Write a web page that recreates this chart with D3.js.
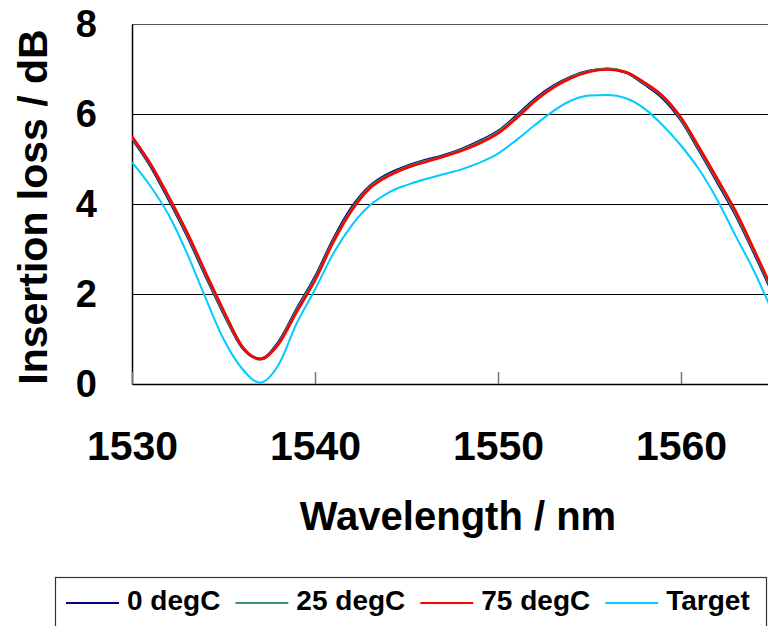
<!DOCTYPE html>
<html>
<head>
<meta charset="utf-8">
<script src="https://cdn.jsdelivr.net/npm/d3@7"></script>
<style>
    body { margin: 0; background: #fff; }
    svg { display: block; font-family: "Liberation Sans", Arial, sans-serif; font-weight: bold; }
</style>
</head>
<body>
<div id="vis"></div>
<script>
// wavelength grid (nm) shared by every series
var wavelengths = [1530, 1531, 1532, 1533, 1534, 1535, 1536, 1537, 1538, 1539,
                   1540, 1541, 1542, 1543, 1544, 1545, 1546, 1547, 1548, 1549,
                   1550, 1551, 1552, 1553, 1554, 1555, 1556, 1557, 1558, 1559,
                   1560, 1561, 1562, 1563, 1564, 1565];

var loss0 = [5.45, 4.85, 4.10, 3.30, 2.42, 1.57, 0.82, 0.56, 0.93, 1.67,
             2.38, 3.22, 3.92, 4.40, 4.67, 4.84, 4.97, 5.08, 5.22, 5.40,
             5.62, 5.96, 6.33, 6.62, 6.83, 6.96, 7.00, 6.92, 6.66, 6.35,
             5.86, 5.18, 4.47, 3.74, 2.90, 2.02];

var loss25 = [5.47, 4.88, 4.14, 3.34, 2.46, 1.60, 0.84, 0.55, 0.90, 1.64,
              2.34, 3.18, 3.88, 4.38, 4.64, 4.82, 4.95, 5.06, 5.20, 5.38,
              5.60, 5.93, 6.30, 6.60, 6.82, 6.95, 7.01, 6.93, 6.68, 6.38,
              5.89, 5.21, 4.51, 3.78, 2.94, 2.06];

var loss75 = [5.50, 4.90, 4.17, 3.38, 2.50, 1.64, 0.85, 0.55, 0.88, 1.60,
              2.30, 3.15, 3.85, 4.35, 4.62, 4.80, 4.93, 5.05, 5.18, 5.35,
              5.57, 5.90, 6.28, 6.58, 6.80, 6.94, 6.99, 6.93, 6.70, 6.40,
              5.92, 5.25, 4.55, 3.83, 2.98, 2.10];

var lossTarget = [4.93, 4.40, 3.76, 2.91, 1.93, 1.00, 0.35, 0.03, 0.42, 1.35,
                  2.10, 2.90, 3.52, 3.97, 4.25, 4.42, 4.55, 4.66, 4.77, 4.92,
                  5.12, 5.42, 5.75, 6.06, 6.30, 6.41, 6.42, 6.35, 6.12, 5.75,
                  5.30, 4.76, 4.08, 3.28, 2.50, 1.60];

var seriesNames = ['0 degC', '25 degC', '75 degC', 'Target'];
var seriesColors = ['#000080', '#339966', '#ff0000', '#00ccff'];
var xTicks = [1530, 1540, 1550, 1560];
var yTicks = [0, 2, 4, 6, 8];

var series = [loss0, loss25, loss75, lossTarget].map((vals, i) => ({
    name: seriesNames[i],
    color: seriesColors[i],
    values: vals.map((v, j) => ({wl: wavelengths[j], loss: v}))
}));

var width = 768,
    height = 626;

var margin = {
    left:   132,
    top:    24,
    bottom: 242
};

var plotBottom = height - margin.bottom;

var svg = d3.select('#vis')
            .append('svg')
            .attr('width', width)
            .attr('height', height);

var xScale = d3.scaleLinear()
               .domain([1530, 1565])
               .range([margin.left, margin.left + 35 * 18.3]);

var yScale = d3.scaleLinear()
               .domain([0, 8])
               .range([plotBottom, margin.top]);

// horizontal gridlines
var grid = svg.append('g')
              .attr('transform', `translate(${margin.left}, 0)`)
              .call(d3.axisLeft(yScale).tickValues([2, 4, 6, 8]).tickSize(-(width - margin.left)).tickFormat(''));
grid.select('.domain').remove();
grid.selectAll('line')
    .attr('stroke', (d) => d == 8 ? '#555' : '#000')
    .attr('stroke-width', 1);

// y axis
var yAxis = svg.append('g')
               .attr('transform', `translate(${margin.left}, 0)`)
               .call(d3.axisLeft(yScale).tickValues(yTicks).tickSize(0).tickPadding(35));
yAxis.select('.domain').attr('stroke', '#000').attr('stroke-width', 1.5);
yAxis.selectAll('text')
     .attr('font-size', 38)
     .attr('font-weight', 'bold')
     .attr('font-family', '"Liberation Sans", Arial, sans-serif')
     .attr('fill', '#000');

// x axis, ticks pointing up into the plot
var xAxis = svg.append('g')
               .attr('transform', `translate(0, ${plotBottom})`)
               .call(d3.axisBottom(xScale).tickValues(xTicks).tickFormat(d3.format('d'))
                       .tickSizeInner(-12).tickSizeOuter(0).tickPadding(47));
xAxis.select('.domain').attr('stroke', '#000').attr('stroke-width', 1.5);
xAxis.selectAll('line').attr('stroke', '#777').attr('stroke-width', 1.5);
xAxis.selectAll('text')
     .attr('font-size', 41)
     .attr('font-weight', 'bold')
     .attr('font-family', '"Liberation Sans", Arial, sans-serif')
     .attr('fill', '#000');

svg.append('clipPath')
   .attr('id', 'plot-clip')
   .append('rect')
   .attr('x', margin.left)
   .attr('y', margin.top - 5)
   .attr('width', width - margin.left)
   .attr('height', plotBottom - margin.top + 6);

var line = d3.line()
             .x((d) => xScale(d.wl))
             .y((d) => yScale(d.loss))
             .curve(d3.curveMonotoneX);

svg.append('g')
   .attr('clip-path', 'url(#plot-clip)')
   .selectAll('path')
   .data(series)
   .enter()
   .append('path')
   .attr('d', (d) => line(d.values))
   .attr('fill', 'none')
   .attr('stroke', (d) => d.color)
   .attr('stroke-width', (d) => d.name == 'Target' ? 2 : 2.6)
   .attr('stroke-linejoin', 'round');

// axis titles
svg.append('text')
   .attr('x', 458)
   .attr('y', 530)
   .attr('text-anchor', 'middle')
   .attr('font-size', 40)
   .text('Wavelength / nm');

svg.append('text')
   .attr('transform', `translate(47, 207) rotate(-90)`)
   .attr('text-anchor', 'middle')
   .attr('font-size', 41)
   .text('Insertion loss / dB');

// legend
var legend = svg.append('g').attr('class', 'legend');

legend.append('rect')
      .attr('x', 55.5)
      .attr('y', 577.5)
      .attr('width', 711)
      .attr('height', 70)
      .attr('fill', '#fff')
      .attr('stroke', '#333')
      .attr('stroke-width', 1.2);

var xPos = 66;
series.forEach((s) => {
    var item = legend.append('g');
    item.append('line')
        .attr('x1', xPos)
        .attr('x2', xPos + 53)
        .attr('y1', 603)
        .attr('y2', 603)
        .attr('stroke', s.color)
        .attr('stroke-width', 2);
    var label = item.append('text')
                    .attr('x', xPos + 61)
                    .attr('y', 610)
                    .attr('font-size', 28)
                    .text(s.name);
    xPos += 61 + label.node().getComputedTextLength() + 15;
});
</script>
</body>
</html>
